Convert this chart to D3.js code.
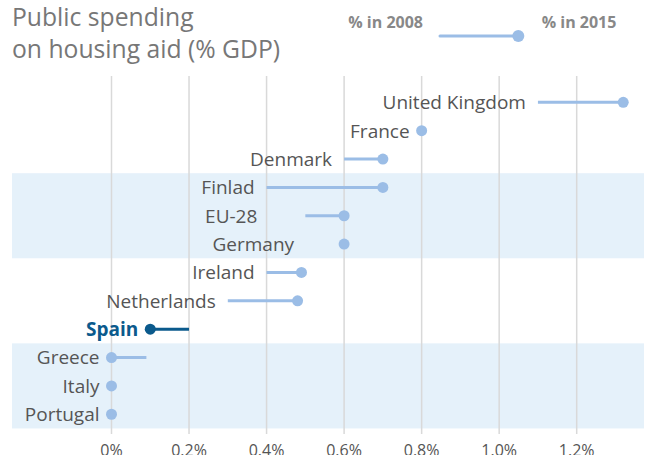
<!DOCTYPE html>
<html>
<head>
<meta charset="utf-8">
<script src="https://cdn.jsdelivr.net/npm/d3@7"></script>
<style>
  html, body { margin: 0; padding: 0; background: #fff; }
  svg { display: block; }
</style>
</head>
<body>
<svg id="chart" width="647" height="455"></svg>
<script>
const countries = ["United Kingdom","France","Denmark","Finlad","EU-28","Germany","Ireland","Netherlands","Spain","Greece","Italy","Portugal"];
const v2008 = [1.10, 0.80, 0.60, 0.40, 0.50, 0.60, 0.40, 0.30, 0.20, 0.09, 0.00, 0.00];
const v2015 = [1.32, 0.80, 0.70, 0.70, 0.60, 0.60, 0.49, 0.48, 0.10, 0.00, 0.00, 0.00];
const highlighted = ["Spain"];
const shadedGroups = [["Finlad","Germany"],["Greece","Portugal"]];
const tickValues = [0, 0.2, 0.4, 0.6, 0.8, 1.0, 1.2];
const tickLabels = ["0%","0.2%","0.4%","0.6%","0.8%","1.0%","1.2%"];
const titleLines = ["Public spending","on housing aid (% GDP)"];
const legendLabels = ["% in 2008","% in 2015"];
const legendValues = [1.8, 2.0];

const FONT = "'Open Sans', 'Liberation Sans', Arial, sans-serif";
const light = "#9bbde6", dark = "#0b5a8c", band = "#e5f1fa", grid = "#d9d9d9";

const svg = d3.select("#chart");
const x = d3.scaleLinear().domain([0, 1.2]).range([111.5, 576.7]);
const step = 28.36;
const y = d3.scalePoint().domain(countries).range([102.3, 102.3 + step * (countries.length - 1)]);

// shaded bands
svg.append("g").selectAll("rect").data(shadedGroups).join("rect")
  .attr("x", 12).attr("width", 644 - 12)
  .attr("y", d => y(d[0]) - step / 2)
  .attr("height", d => y(d[1]) - y(d[0]) + step)
  .attr("fill", band);

// gridlines
svg.append("g").selectAll("line").data(tickValues).join("line")
  .attr("x1", d => x(d)).attr("x2", d => x(d))
  .attr("y1", 76).attr("y2", 434)
  .attr("stroke", grid).attr("stroke-width", 1.5);

// axis labels
svg.append("g").selectAll("text").data(tickValues).join("text")
  .attr("x", d => x(d)).attr("y", 456)
  .attr("text-anchor", "middle")
  .attr("font-family", FONT).attr("font-size", 16).attr("fill", "#555")
  .text((d, i) => tickLabels[i]);

const rows = countries.map((c, i) => ({ c, a: v2008[i], b: v2015[i], hl: highlighted.includes(c) }));
const labelExtra = { "EU-28": 36, "Germany": 38 };

const g = svg.append("g");
g.selectAll("line.seg").data(rows).join("line").attr("class", "seg")
  .attr("x1", d => x(d.a)).attr("x2", d => x(d.b))
  .attr("y1", d => y(d.c)).attr("y2", d => y(d.c))
  .attr("stroke", d => d.hl ? dark : light).attr("stroke-width", 3);

g.selectAll("circle").data(rows).join("circle")
  .attr("cx", d => x(d.b)).attr("cy", d => y(d.c)).attr("r", 5.5)
  .attr("fill", d => d.hl ? dark : light);

g.selectAll("text").data(rows).join("text")
  .attr("x", d => x(Math.min(d.a, d.b)) - 12 - (labelExtra[d.c] || 0))
  .attr("y", d => y(d.c)).attr("dy", "0.36em")
  .attr("text-anchor", "end")
  .attr("font-family", FONT).attr("font-size", 19)
  .attr("font-weight", d => d.hl ? 700 : 400)
  .attr("fill", d => d.hl ? dark : "#555")
  .text(d => d.c);

// title
svg.append("g").selectAll("text").data(titleLines).join("text")
  .attr("x", 12).attr("y", (d, i) => 26 + i * 32)
  .attr("font-family", FONT).attr("font-size", 24.7).attr("fill", "#777")
  .text(d => d);

// legend
const lx = d3.scaleLinear().domain(legendValues).range([440, 518.3]);
svg.append("line").attr("x1", lx(legendValues[0])).attr("x2", lx(legendValues[1]))
  .attr("y1", 36).attr("y2", 36).attr("stroke", light).attr("stroke-width", 3).attr("stroke-linecap", "round");
svg.append("circle").attr("cx", lx(legendValues[1])).attr("cy", 36).attr("r", 6).attr("fill", light);
svg.append("text").attr("x", 423).attr("y", 28).attr("text-anchor", "end")
  .attr("font-family", FONT).attr("font-size", 16).attr("font-weight", 700).attr("fill", "#888")
  .text(legendLabels[0]);
svg.append("text").attr("x", 541.7).attr("y", 28)
  .attr("font-family", FONT).attr("font-size", 16).attr("font-weight", 700).attr("fill", "#888")
  .text(legendLabels[1]);
</script>
</body>
</html>
